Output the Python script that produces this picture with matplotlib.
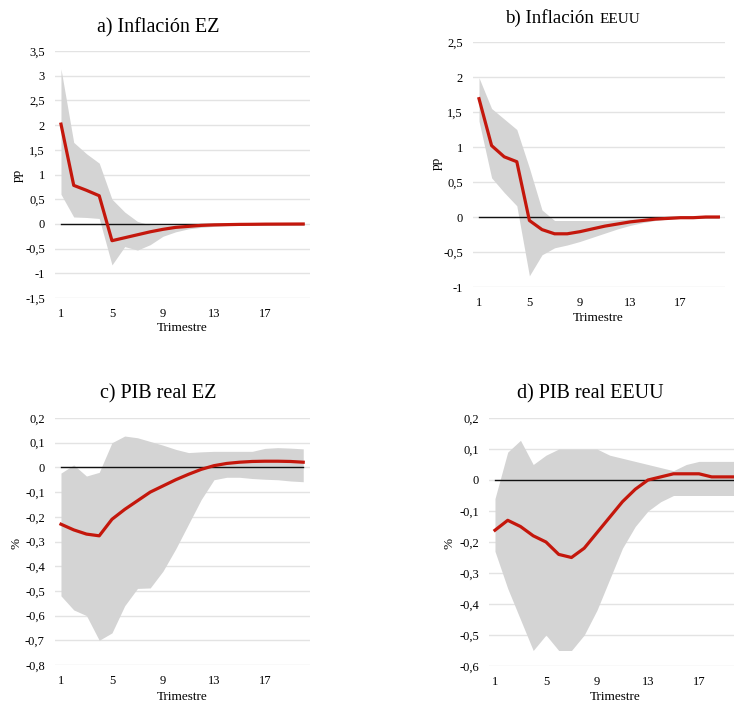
import matplotlib
matplotlib.use('Agg')
import matplotlib.pyplot as plt

plt.rcParams['font.family'] = ['Liberation Serif', 'DejaVu Serif']

# trimestres
trimestres = list(range(1, 21))
xticks = [1, 5, 9, 13, 17]

# a) Inflación EZ
inf_ez = [2.02, 0.78, 0.68, 0.57, -0.34, -0.28, -0.22, -0.16, -0.11, -0.07,
          -0.05, -0.03, -0.02, -0.015, -0.01, -0.008, -0.005, -0.004, -0.003, -0.002]
inf_ez_sup = [3.14, 1.65, 1.42, 1.23, 0.50, 0.24, 0.05, -0.02, -0.03, -0.03,
              -0.02, -0.01, -0.005, 0.0, 0.0, 0.0, 0.0, 0.0, 0.0, 0.0]
inf_ez_inf = [0.60, 0.14, 0.13, 0.11, -0.83, -0.46, -0.53, -0.42, -0.25, -0.16,
              -0.10, -0.07, -0.05, -0.035, -0.025, -0.02, -0.015, -0.01, -0.01, -0.005]

# b) Inflación EEUU
inf_us = [1.69, 1.02, 0.86, 0.79, -0.05, -0.18, -0.24, -0.24, -0.21, -0.17,
          -0.13, -0.10, -0.07, -0.05, -0.03, -0.02, -0.01, -0.01, 0.0, 0.0]
inf_us_sup = [1.99, 1.55, 1.40, 1.25, 0.70, 0.10, -0.05, -0.05, -0.05, -0.05,
              -0.05, -0.04, -0.03, -0.02, -0.01, 0.0, 0.0, 0.0, 0.0, 0.0]
inf_us_inf = [1.37, 0.56, 0.35, 0.16, -0.84, -0.54, -0.44, -0.40, -0.35, -0.29,
              -0.23, -0.17, -0.12, -0.08, -0.05, -0.03, -0.02, -0.01, -0.01, 0.0]

# c) PIB real EZ
pib_ez = [-0.23, -0.253, -0.27, -0.277, -0.21, -0.17, -0.135, -0.10, -0.075, -0.05,
          -0.028, -0.008, 0.007, 0.016, 0.021, 0.024, 0.025, 0.025, 0.024, 0.021]
pib_ez_sup = [-0.023, 0.01, -0.035, -0.02, 0.10, 0.127, 0.12, 0.105, 0.09, 0.073,
              0.06, 0.063, 0.065, 0.065, 0.065, 0.065, 0.077, 0.08, 0.078, 0.075]
pib_ez_inf = [-0.52, -0.577, -0.60, -0.70, -0.67, -0.56, -0.49, -0.488, -0.42, -0.33,
              -0.23, -0.13, -0.05, -0.04, -0.04, -0.045, -0.048, -0.05, -0.055, -0.058]

# d) PIB real EEUU
pib_us = [-0.162, -0.13, -0.15, -0.18, -0.20, -0.24, -0.25, -0.22, -0.17, -0.12,
          -0.07, -0.03, 0.0, 0.01, 0.02, 0.02, 0.02, 0.01, 0.01, 0.01]
pib_us_sup = [-0.06, 0.09, 0.128, 0.05, 0.08, 0.10, 0.10, 0.10, 0.10, 0.08,
              0.07, 0.06, 0.05, 0.04, 0.03, 0.05, 0.06, 0.06, 0.06, 0.06]
pib_us_inf = [-0.23, -0.35, -0.45, -0.55, -0.50, -0.55, -0.55, -0.50, -0.42, -0.32,
              -0.22, -0.15, -0.10, -0.07, -0.05, -0.05, -0.05, -0.05, -0.05, -0.05]

W, H = 734, 705
fig = plt.figure(figsize=(W / 100, H / 100), dpi=100)


def px(x, y):
    return x / W, 1 - y / H


def panel(rect, media, sup, inf, yticks):
    l, t, r, b = rect
    ax = fig.add_axes([l / W, 1 - b / H, (r - l) / W, (b - t) / H])
    ax.fill_between(trimestres, inf, sup, color='#d4d4d4', lw=0, zorder=2)
    ax.plot(trimestres, [0] * len(trimestres), color='#111111', lw=1.0, zorder=3)
    ax.plot(trimestres, media, color='#c4170c', lw=2.3, zorder=4)
    ax.set_xlim(0.5, 20.5)
    ax.set_ylim(yticks[0], yticks[-1])
    ax.set_yticks(yticks)
    ax.set_yticklabels([('%g' % round(v, 2)).replace('.', ',') for v in yticks])
    ax.set_xticks(xticks)
    ax.tick_params(length=0, labelsize=9, pad=7)
    ax.grid(axis='y', color='#e3e3e3', lw=1.0, zorder=0)
    ax.set_axisbelow(True)
    for s in ax.spines.values():
        s.set_visible(False)
    return ax


def ticks(a, b, step):
    n = int(round((b - a) / step))
    return [round(a + i * step, 2) for i in range(n + 1)]


panel((54.6, 51, 309.6, 298), inf_ez, inf_ez_sup, inf_ez_inf, ticks(-1.5, 3.5, 0.5))
panel((472.7, 42, 724.7, 287), inf_us, inf_us_sup, inf_us_inf, ticks(-1.0, 2.5, 0.5))
panel((54.6, 418, 309.6, 665), pib_ez, pib_ez_sup, pib_ez_inf, ticks(-0.8, 0.2, 0.1))
panel((488.6, 418, 743.6, 666), pib_us, pib_us_sup, pib_us_inf, ticks(-0.6, 0.2, 0.1))

# títulos
fig.text(*px(158, 32), 'a) Inflación EZ', fontsize=14.5, ha='center', va='baseline')
fig.text(*px(505, 23), 'b) Inflación', fontsize=13.6, ha='left', va='baseline')
fig.text(*px(600, 23), 'EEUU', fontsize=11, ha='left', va='baseline')
fig.text(*px(158, 398), 'c) PIB real EZ', fontsize=14.5, ha='center', va='baseline')
fig.text(*px(590, 398), 'd) PIB real EEUU', fontsize=14.5, ha='center', va='baseline')

# ejes
for x, y in [(182, 328), (598, 318), (182, 697), (615, 697)]:
    fig.text(*px(x, y), 'Trimestre', fontsize=9.5, ha='center', va='center')
for x, y, s in [(18, 175, 'pp'), (437, 163, 'pp'), (16, 543, '%'), (450, 543, '%')]:
    fig.text(*px(x, y), s, fontsize=9.5, ha='center', va='center', rotation=90)

fig.savefig('out.png', dpi=100)
